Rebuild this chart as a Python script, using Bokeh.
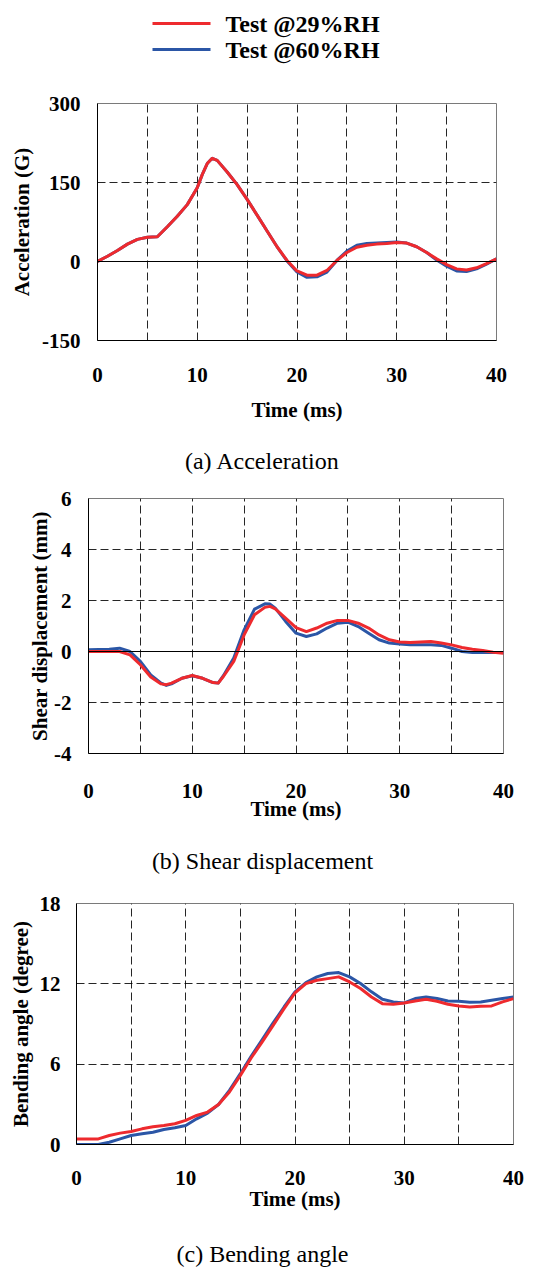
from bokeh.plotting import figure
from bokeh.models import Range1d, FixedTicker, Span
from bokeh.core.properties import value
from bokeh.embed import file_html
from bokeh.resources import INLINE

# ---------------- data ----------------
series_names = ["Test @29%RH", "Test @60%RH"]
captions = ["(a) Acceleration", "(b) Shear displacement", "(c) Bending angle"]
x_ticks = [0, 10, 20, 30, 40]
x_grid = [5, 10, 15, 20, 25, 30, 35]

acc_t = [0, 1, 2, 3, 4, 5, 6, 7, 8, 9, 10, 10.5, 11, 11.5, 12, 13, 14, 15, 16, 17, 18,
         19, 20, 21, 22, 23, 24, 25, 26, 27, 28, 29, 30, 31, 32, 33, 34, 35, 36, 37, 38, 39, 40]
acc_29 = [0, 10, 21, 33, 42, 46, 47, 66, 86, 108, 140, 165, 186, 196, 192, 170, 146, 118, 88, 58, 28,
          2, -18, -26, -26, -17, 2, 17, 27, 31, 33, 34, 36, 35, 28, 17, 5, -6, -14, -16, -12, -4, 5]
acc_60 = [0, 10, 21, 33, 42, 46, 47, 66, 86, 108, 140, 165, 186, 196, 192, 170, 146, 118, 88, 58, 28,
          1, -20, -30, -29, -20, 2, 20, 31, 34, 35, 36, 37, 35, 28, 17, 3, -9, -18, -19, -14, -5, 5]
acc_yticks = [-150, 0, 150, 300]
acc_ygrid = [150]

shear_t = [0, 2, 3, 4, 5, 6, 7, 7.5, 8, 9, 10, 11, 12, 12.5, 13, 14, 15, 16, 17, 17.5,
           18, 19, 20, 21, 22, 23, 24, 25, 26, 27, 28, 29, 30, 31, 32, 33, 34, 35, 36, 37, 38, 39, 40]
shear_29 = [0, 0, 0, -0.13, -0.52, -1.0, -1.27, -1.3, -1.24, -1.05, -0.94, -1.05, -1.22, -1.24, -0.98,
            -0.39, 0.65, 1.44, 1.73, 1.77, 1.67, 1.31, 0.94, 0.78, 0.92, 1.11, 1.22, 1.22, 1.11, 0.92,
            0.65, 0.46, 0.37, 0.35, 0.37, 0.39, 0.33, 0.26, 0.16, 0.09, 0.04, -0.03, -0.07]
shear_60 = [0.07, 0.09, 0.13, 0, -0.39, -0.92, -1.24, -1.33, -1.27, -1.05, -0.95, -1.05, -1.22, -1.24, -0.95,
            -0.26, 0.85, 1.66, 1.87, 1.86, 1.70, 1.18, 0.72, 0.59, 0.69, 0.92, 1.11, 1.15, 0.98, 0.72,
            0.46, 0.33, 0.29, 0.26, 0.26, 0.26, 0.24, 0.13, 0.0, -0.04, -0.04, -0.04, -0.04]
shear_yticks = [-4, -2, 0, 2, 4, 6]
shear_ygrid = [-2, 2, 4]

bend_t = [0, 2, 3, 4, 5, 6, 7, 8, 9, 10, 11, 12, 13, 14, 15, 16, 17, 18, 19, 20,
          21, 22, 23, 24, 25, 26, 27, 28, 29, 30, 31, 32, 33, 34, 35, 36, 37, 38, 39, 40]
bend_29 = [0.42, 0.42, 0.67, 0.85, 0.97, 1.17, 1.32, 1.42, 1.55, 1.80, 2.17, 2.42, 2.99, 3.92, 5.16,
           6.48, 7.66, 8.90, 10.15, 11.32, 12.02, 12.27, 12.39, 12.52, 12.14, 11.65, 11.02, 10.52, 10.47,
           10.57, 10.72, 10.85, 10.70, 10.47, 10.35, 10.27, 10.32, 10.35, 10.65, 10.90]
bend_60 = [0, 0, 0.17, 0.42, 0.67, 0.80, 0.92, 1.12, 1.25, 1.42, 1.92, 2.34, 2.99, 4.04, 5.29,
           6.61, 7.83, 9.08, 10.27, 11.40, 12.09, 12.52, 12.77, 12.84, 12.52, 12.02, 11.40, 10.85, 10.65,
           10.57, 10.90, 11.02, 10.90, 10.72, 10.70, 10.62, 10.65, 10.77, 10.90, 11.02]
bend_yticks = [0, 6, 12, 18]
bend_ygrid = [6, 12]

# ---------------- style ----------------
RED = "#EE2A2E"
BLUE = "#2B56A6"
FONT = "Liberation Serif"
W = 534


def blank_fig(H):
    # pixel-like coordinate system (y grows downward) for key and captions
    p = figure(width=W, height=H, x_range=Range1d(0, W), y_range=Range1d(H, 0),
               output_backend="svg", toolbar_location=None, min_border=0)
    p.axis.visible = False
    p.grid.visible = False
    p.outline_line_color = None
    return p


def legend_fig():
    p = blank_fig(78)
    colors = [RED, BLUE]
    rows = [23, 49]
    p.segment(x0=[152, 152], y0=rows, x1=[210, 210], y1=rows, line_color=colors, line_width=3)
    p.text(x=[225, 225], y=rows, text=series_names, text_font=value(FONT),
           text_font_style="bold", text_font_size="24px", text_baseline="middle",
           text_align="left", text_color="black")
    return p


def caption_fig(text, H, yc):
    p = blank_fig(H)
    p.text(x=[262], y=[yc], text=[text], text_font=value(FONT), text_font_style="normal",
           text_font_size="24px", text_baseline="middle", text_align="center",
           text_color="black")
    return p


def panel(t, y29, y60, yr, yticks, ygrid, ylabel, height, borders,
          xstand, xlstand, ystand, ylstand, zero_line=True):
    L, R, T, B = borders
    p = figure(width=W, height=height, x_range=Range1d(0, 40), y_range=Range1d(*yr),
               output_backend="svg", toolbar_location=None,
               min_border_left=L, min_border_right=R, min_border_top=T, min_border_bottom=B)

    p.xaxis.ticker = FixedTicker(ticks=x_ticks)
    p.yaxis.ticker = FixedTicker(ticks=yticks)
    p.yaxis.major_label_overrides = {v: str(v) for v in yticks}
    p.xgrid.ticker = FixedTicker(ticks=x_grid)
    p.ygrid.ticker = FixedTicker(ticks=ygrid)
    for g in (p.xgrid, p.ygrid):
        g.grid_line_color = "black"
        g.grid_line_dash = "8 4"
        g.grid_line_width = 1
        g.grid_line_alpha = 0.85

    for ax in (p.xaxis, p.yaxis):
        ax.major_tick_out = 0
        ax.major_tick_in = 0
        ax.minor_tick_out = 0
        ax.minor_tick_in = 0
        ax.axis_line_color = "black"
        ax.axis_line_width = 1
        ax.major_label_text_font = FONT
        ax.major_label_text_font_style = "bold"
        ax.major_label_text_font_size = "21px"
        ax.major_label_text_color = "black"
        ax.axis_label_text_font = FONT
        ax.axis_label_text_font_style = "bold"
        ax.axis_label_text_font_size = "21px"
        ax.axis_label_text_color = "black"
    p.xaxis.axis_label = "Time (ms)"
    p.yaxis.axis_label = ylabel
    p.xaxis.major_label_standoff = xstand
    p.xaxis.axis_label_standoff = xlstand
    p.yaxis.major_label_standoff = ystand
    p.yaxis.axis_label_standoff = ylstand
    p.outline_line_color = "#7a7a7a"
    p.outline_line_width = 1

    if zero_line:
        p.add_layout(Span(location=0, dimension="width", line_color="black", line_width=1))

    p.line(t, y60, line_color=BLUE, line_width=3, line_join="round")
    p.line(t, y29, line_color=RED, line_width=3, line_join="round")
    return p


pl = legend_fig()
# panel a: window y 78..430, frame 103..340
pa = panel(acc_t, acc_29, acc_60, (-150, 300), acc_yticks, acc_ygrid,
           "Acceleration (G)", 352, (97, 38, 25, 90), 27, 13, 17, 5)
ca = caption_fig(captions[0], 50, 30)          # window y 430..480
# panel b: window y 480..830, frame 498..753
pb = panel(shear_t, shear_29, shear_60, (-4, 6), shear_yticks, shear_ygrid,
           "Shear displacement (mm)", 350, (88, 31, 18, 77), 30, -4, 17, -1)
cb = caption_fig(captions[1], 50, 30)          # window y 830..880
# panel c: window y 880..1225, frame 903..1144
pc = panel(bend_t, bend_29, bend_60, (0, 18), bend_yticks, bend_ygrid,
           "Bending angle (degree)", 345, (76, 21, 23, 81), 26, -1, 16, 4, zero_line=False)
cc = caption_fig(captions[2], 43, 28)          # window y 1225..1268

open("out.html", "w").write(file_html([pl, pa, ca, pb, cb, pc, cc], INLINE))
